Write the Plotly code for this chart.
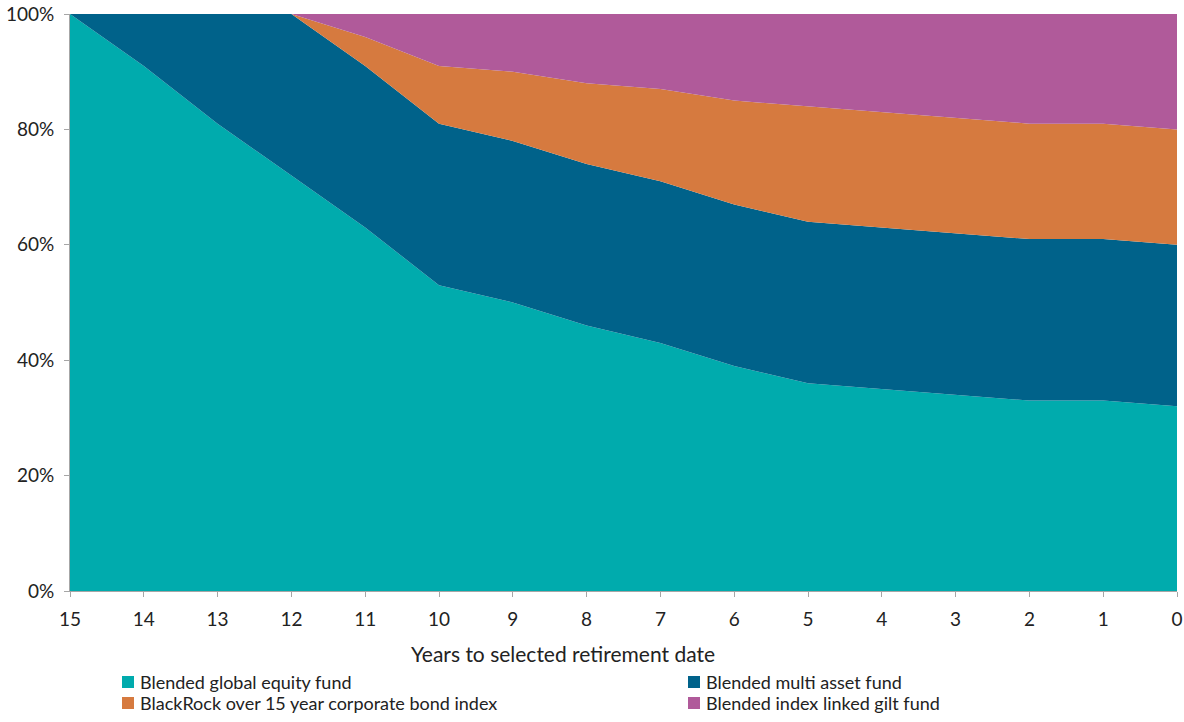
import plotly.graph_objects as go

# Years to selected retirement date
years = [15, 14, 13, 12, 11, 10, 9, 8, 7, 6, 5, 4, 3, 2, 1, 0]

# Allocation (%) per fund at each point
equity = [100, 91, 81, 72, 63, 53, 50, 46, 43, 39, 36, 35, 34, 33, 33, 32]
multi_asset = [0, 9, 19, 28, 28, 28, 28, 28, 28, 28, 28, 28, 28, 28, 28, 28]
corp_bond = [0, 0, 0, 0, 5, 10, 12, 14, 16, 18, 20, 20, 20, 20, 20, 20]
index_gilt = [0, 0, 0, 0, 4, 9, 10, 12, 13, 15, 16, 17, 18, 19, 19, 20]

names = [
    "Blended global equity fund",
    "Blended multi asset fund",
    "BlackRock over 15 year corporate bond index",
    "Blended index linked gilt fund",
]
colors = ["#00ABAD", "#00628A", "#D67A3F", "#B05A9A"]
series = [equity, multi_asset, corp_bond, index_gilt]

FONT = "Lato, 'Open Sans', sans-serif"
TEXT = "#222222"
AXIS = "#A6A6A6"

# plot area in pixels
W, H = 1184, 722
L, R, T, B = 70, 7, 14, 131
PW, PH = W - L - R, H - T - B


def px_x(px):
    return (px - L) / PW


def px_y(py):
    return (H - B - py) / PH


fig = go.Figure()
for name, col, vals in zip(names, colors, series):
    fig.add_trace(go.Scatter(
        x=years, y=vals, name=name, stackgroup="one", mode="lines",
        line=dict(width=0, color=col), fillcolor=col, showlegend=False,
        hovertemplate="%{y}%<extra>" + name + "</extra>",
    ))

# Two-column legend below the axis title
key_slots = [
    (122, 682), (688, 682),
    (122, 703), (688, 703),
]
shapes = []
annotations = []
for (kx, ky), name, col in zip(key_slots, names, colors):
    shapes.append(dict(
        type="rect", xref="paper", yref="paper",
        x0=px_x(kx), x1=px_x(kx + 12), y0=px_y(ky + 6), y1=px_y(ky - 6),
        fillcolor=col, line=dict(width=0),
    ))
    annotations.append(dict(
        xref="paper", yref="paper", x=px_x(kx + 16), y=px_y(ky),
        xanchor="left", yanchor="middle", showarrow=False, text=name,
        font=dict(family=FONT, size=18, color=TEXT),
    ))

# Axis title
annotations.append(dict(
    xref="paper", yref="paper", x=px_x(563), y=px_y(653),
    xanchor="center", yanchor="middle", showarrow=False,
    text="Years to selected retirement date",
    font=dict(family=FONT, size=21, color=TEXT),
))

fig.update_layout(
    width=W, height=H,
    margin=dict(l=L, r=R, t=T, b=B, autoexpand=False),
    paper_bgcolor="white", plot_bgcolor="white",
    font=dict(family=FONT, size=19, color=TEXT),
    showlegend=False,
    shapes=shapes,
    annotations=annotations,
    xaxis=dict(
        range=[15, 0], tickmode="array", tickvals=years,
        ticktext=[str(y) for y in years],
        showgrid=False, zeroline=False, automargin=False,
        showline=True, linecolor=AXIS, linewidth=1,
        ticks="outside", ticklen=5, tickcolor=AXIS,
        ticklabelstandoff=6,
        tickfont=dict(family=FONT, size=19, color=TEXT),
    ),
    yaxis=dict(
        range=[0, 100], tickvals=[0, 20, 40, 60, 80, 100],
        ticktext=["0%", "20%", "40%", "60%", "80%", "100%"],
        showgrid=False, zeroline=False, automargin=False,
        showline=True, linecolor=AXIS, linewidth=1,
        ticks="outside", ticklen=5, tickcolor=AXIS,
        ticklabelstandoff=6,
        tickfont=dict(family=FONT, size=19, color=TEXT),
    ),
)

fig.write_html("out.html")
